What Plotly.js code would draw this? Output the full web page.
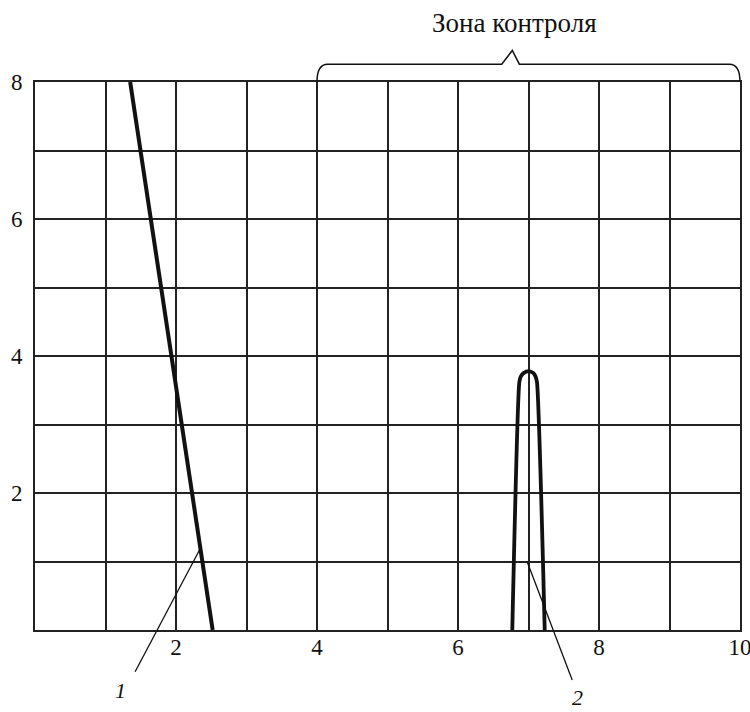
<!DOCTYPE html>
<html>
<head>
<meta charset="utf-8">
<script src="https://cdn.plot.ly/plotly-3.0.1.min.js"></script>
<style>html,body{margin:0;padding:0;background:#fff;}#chart{width:750px;height:712px;}</style>
</head>
<body>
<div id="chart"></div>
<script>
// Axis ranges and ticks
const xRange = [0, 10];
const yRange = [0, 8];
const xTickVals = [1, 2, 3, 4, 5, 6, 7, 8, 9, 10];
const xTickText = ['', '2', '', '4', '', '6', '', '8', '', '10'];
const yTickVals = [1, 2, 3, 4, 5, 6, 7, 8];
const yTickText = ['', '2', '', '4', '', '6', '', '8'];

// Curve 1 (straight falling line)
const curve1X = [1.35, 2.52];
const curve1Y = [8, 0];

// Curve 2 (narrow peak)
const curve2X = [6.77, 6.87, 6.89, 6.93, 7.0, 7.07, 7.10, 7.12, 7.23];
const curve2Y = [0, 3.62, 3.70, 3.75, 3.78, 3.75, 3.70, 3.62, 0];

// Callout labels and their leader lines (data units)
const labelText = ['1', '2'];
const labelX = [1.21, 7.70];
const labelY = [-0.88, -0.98];
const leaderStartX = [1.42, 7.62];
const leaderStartY = [-0.61, -0.73];
const leaderEndX = [2.35, 6.98];
const leaderEndY = [1.2, 1.0];

// Brace over the control zone (data units)
const zoneLabel = 'Зона контроля';
const zoneFrom = 4, zoneTo = 10;
const braceY = 8.26, braceNotchLeft = 6.62, braceNotchPeak = 6.77, braceNotchRight = 6.87, bracePeakY = 8.46;
const zoneLabelX = 6.8, zoneLabelY = 8.86;

const px = v => (v - xRange[0]) / (xRange[1] - xRange[0]);
const py = v => (v - yRange[0]) / (yRange[1] - yRange[0]);

const serif = '"Liberation Serif", "Times New Roman", serif';
const ink = '#111';

const traces = [
  {x: curve1X, y: curve1Y, mode: 'lines', line: {color: ink, width: 4}, hoverinfo: 'skip'},
  {x: curve2X, y: curve2Y, mode: 'lines', line: {color: ink, width: 3.8, shape: 'spline', smoothing: 0.6}, hoverinfo: 'skip'}
];

const shapes = [];
for (let i = 0; i < leaderStartX.length; i++) {
  shapes.push({type: 'line', xref: 'paper', yref: 'paper',
    x0: px(leaderStartX[i]), y0: py(leaderStartY[i]), x1: px(leaderEndX[i]), y1: py(leaderEndY[i]),
    line: {color: ink, width: 1.3}});
}
const bracePath =
  'M ' + px(zoneFrom) + ',' + py(8) +
  ' Q ' + px(zoneFrom) + ',' + py(braceY) + ' ' + px(zoneFrom + 0.15) + ',' + py(braceY) +
  ' L ' + px(braceNotchLeft) + ',' + py(braceY) +
  ' L ' + px(braceNotchPeak) + ',' + py(bracePeakY) +
  ' L ' + px(braceNotchRight) + ',' + py(braceY) +
  ' L ' + px(zoneTo - 0.15) + ',' + py(braceY) +
  ' Q ' + px(zoneTo) + ',' + py(braceY) + ' ' + px(zoneTo) + ',' + py(8);
shapes.push({type: 'path', xref: 'paper', yref: 'paper', path: bracePath, line: {color: ink, width: 1.5}});

const annotations = labelText.map((t, i) => ({
  x: px(labelX[i]), y: py(labelY[i]), xref: 'paper', yref: 'paper', text: '<i>' + t + '</i>',
  showarrow: false, font: {family: serif, size: 22, color: ink}, xanchor: 'center', yanchor: 'middle'
}));
annotations.push({x: px(zoneLabelX), y: py(zoneLabelY), xref: 'paper', yref: 'paper', text: zoneLabel,
  showarrow: false, font: {family: serif, size: 27, color: ink}, xanchor: 'center', yanchor: 'middle'});

const axisCommon = {
  showgrid: true, gridcolor: '#222', gridwidth: 2,
  showline: true, linecolor: '#222', linewidth: 2, mirror: true,
  zeroline: false, tickmode: 'array', tickcolor: 'rgba(0,0,0,0)',
  ticklabeloverflow: 'allow',
  tickfont: {family: serif, size: 23, color: ink}, fixedrange: true
};

const layout = {
  width: 750, height: 712,
  margin: {l: 35, r: 10, t: 82, b: 82},
  paper_bgcolor: '#fff', plot_bgcolor: '#fff',
  showlegend: false,
  xaxis: Object.assign({}, axisCommon, {range: xRange, tickvals: xTickVals, ticktext: xTickText, ticks: '', ticklabelstandoff: -5}),
  yaxis: Object.assign({}, axisCommon, {range: yRange, tickvals: yTickVals, ticktext: yTickText, ticks: 'outside', ticklen: 6}),
  shapes: shapes,
  annotations: annotations
};

Plotly.newPlot('chart', traces, layout, {staticPlot: true});
</script>
</body>
</html>
